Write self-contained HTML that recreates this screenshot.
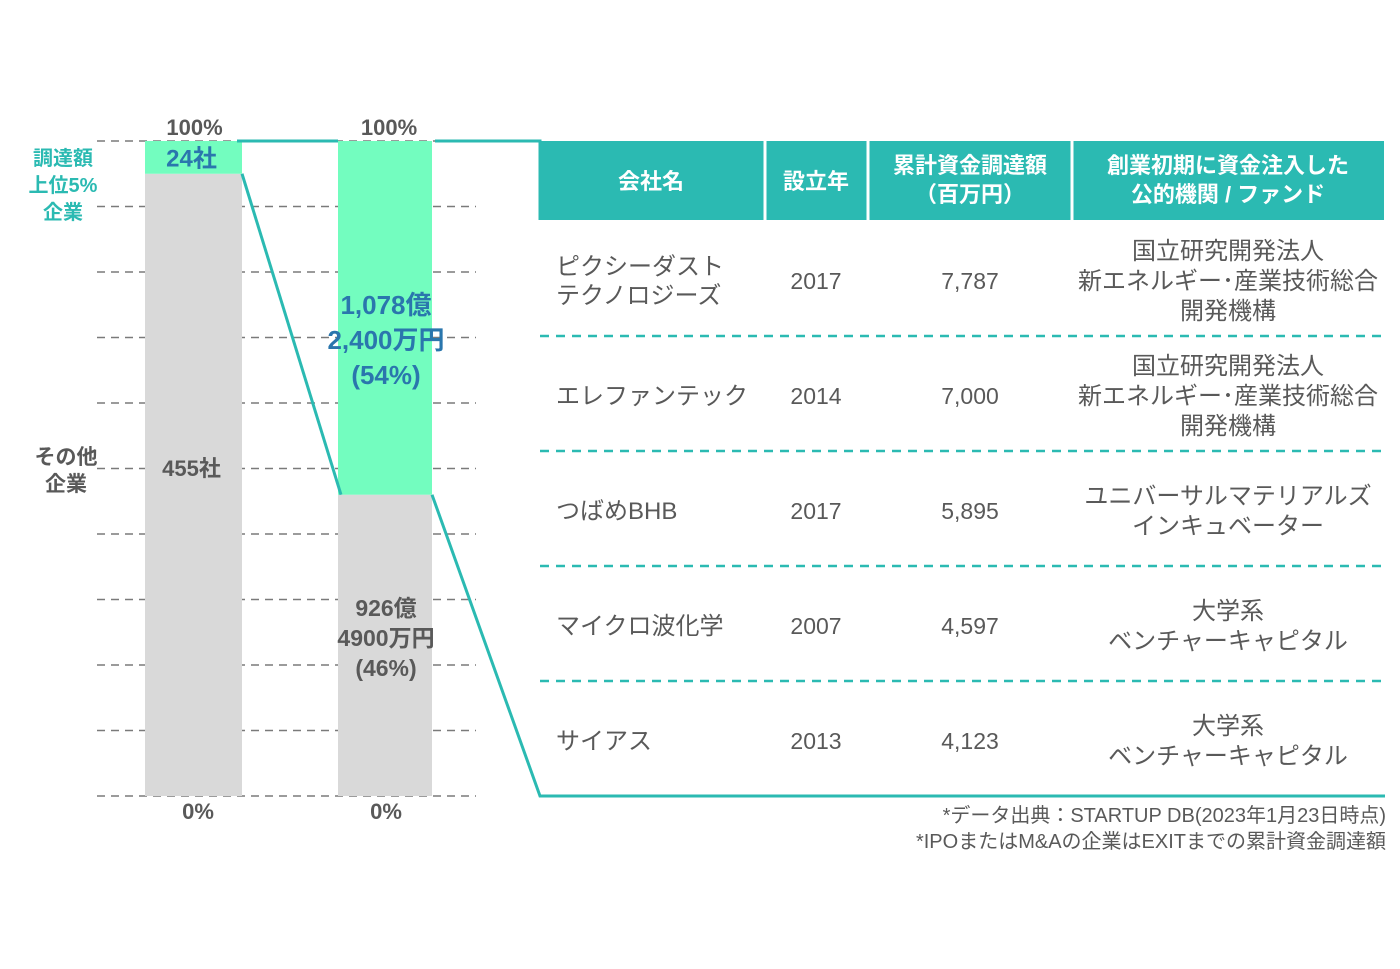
<!DOCTYPE html>
<html><head><meta charset="utf-8">
<style>
body{margin:0;background:#fff;}
svg{display:block;font-family:"Liberation Sans","Noto Sans CJK JP",sans-serif;}
</style></head>
<body>
<svg id="chart" width="1400" height="969" viewBox="0 0 1400 969">
<g id="grid"></g><g id="bars"></g><g id="conn"></g><g id="labels"></g>
<g id="table"></g>
</svg>
<script>
const categories = ["社数", "調達額"];
const topShare = [5, 54];
const otherShare = [95, 46];
const topLabels = [["24社"], ["1,078億", "2,400万円", "(54%)"]];
const otherLabels = [["455社"], ["926億", "4900万円", "(46%)"]];
const gridTicks = [0,10,20,30,40,50,60,70,80,90,100];
const companies = ["ピクシーダスト|テクノロジーズ","エレファンテック","つばめBHB","マイクロ波化学","サイアス"];
const founded = ["2017","2014","2017","2007","2013"];
const funding = ["7,787","7,000","5,895","4,597","4,123"];
const investors = ["国立研究開発法人|新エネルギー･産業技術総合|開発機構","国立研究開発法人|新エネルギー･産業技術総合|開発機構","ユニバーサルマテリアルズ|インキュベーター","大学系|ベンチャーキャピタル","大学系|ベンチャーキャピタル"];

const NS="http://www.w3.org/2000/svg";
function mk(tag,attrs,parent,text){const e=document.createElementNS(NS,tag);for(const k in attrs)e.setAttribute(k,attrs[k]);if(text!==undefined)e.textContent=text;parent.appendChild(e);return e;}
const y0=796,y1=141;
const y=v=>y0-(y0-y1)*v/100;
const barX=[145,338], barW=[97,94];
const TEAL="#2bbab2", GREEN="#73fdbf", GRAY="#d9d9d9", TXT="#595959", BLUE="#2a76ad";
const grid=document.getElementById('grid'),bars=document.getElementById('bars'),conn=document.getElementById('conn'),lab=document.getElementById('labels'),tbl=document.getElementById('table');
gridTicks.forEach(t=>{
  const l=mk('line',{x1:97,x2:476,y1:y(t),y2:y(t),stroke:'#7a7a7a','stroke-width':1.5,'stroke-dasharray':'8 6'},grid);
  
  
});
const botX=[198,386];
categories.forEach((c,i)=>{
  const o=mk('rect',{x:barX[i],y:y(otherShare[i]),width:barW[i],height:y0-y(otherShare[i]),fill:GRAY},bars);
  
  
  const t=mk('rect',{x:barX[i],y:y(100),width:barW[i],height:y(100-topShare[i])-y(100),fill:GREEN},bars);
  
  
  const cx=barX[i]+barW[i]/2+(i==0?-3:0);
  const a=mk('text',{x:cx+4,y:135,'text-anchor':'middle','font-size':22,'font-weight':'bold',fill:TXT},lab,'100%');
  
  
  const b=mk('text',{x:botX[i],y:819,'text-anchor':'middle','font-size':22,'font-weight':'bold',fill:TXT},lab,'0%');
  
  
  const tm=(y(100)+y(100-topShare[i]))/2;
  const tl=topLabels[i], ol=otherLabels[i];
  const tOff = i==0? tm+9 : 314;
  tl.forEach((s,k)=>{const e=mk('text',{x:cx+1,y:tOff+k*35,'text-anchor':'middle','font-size':i==0?24:26,'font-weight':'bold',fill:BLUE},lab,s);
    
    });
  const oOff = i==0? 476 : 616;
  ol.forEach((s,k)=>{const e=mk('text',{x:cx+1,y:oOff+k*30,'text-anchor':'middle','font-size':i==0?22:23,'font-weight':'bold',fill:TXT},lab,s);
    
    });
});
const c1=mk('polyline',{points:`${barX[0]+barW[0]-5},${y(100)} ${barX[1]},${y(100)}`,stroke:TEAL,'stroke-width':3,fill:'none'},conn);

const c2=mk('polyline',{points:`${barX[0]+barW[0]},${y(100-topShare[0])} ${barX[1]+3},${y(100-topShare[1])}`,stroke:TEAL,'stroke-width':3,fill:'none'},conn);

const c3=mk('polyline',{points:`${barX[1]+barW[1]+3},${y(100)} 540,${y(100)} 540,220`,stroke:TEAL,'stroke-width':3,fill:'none'},conn);

const c4=mk('polyline',{points:`${barX[1]+barW[1]},${y(100-topShare[1])} 540,796 1385,796`,stroke:TEAL,'stroke-width':3,fill:'none'},conn);

[["調達額",165],["上位5%",192],["企業",219]].forEach(([s,yy])=>{const e=mk('text',{x:63,y:yy,'text-anchor':'middle','font-size':20,'font-weight':'bold',fill:TEAL},lab,s);
  });
[["その他",464],["企業",491]].forEach(([s,yy])=>{const e=mk('text',{x:66,y:yy,'text-anchor':'middle','font-size':21,'font-weight':'bold',fill:TXT},lab,s);
  });
const centers=[651,816,970,1228];
const h=mk('rect',{x:540,y:141,width:844,height:79,fill:TEAL},tbl);

[765,868,1072].forEach(x=>{const l=mk('line',{x1:x,x2:x,y1:141,y2:220,stroke:'#fff','stroke-width':3},tbl);
  });
const heads=[["会社名"],["設立年"],["累計資金調達額","（百万円）"],["創業初期に資金注入した","公的機関 / ファンド"]];
heads.forEach((hh,i)=>{const base=hh.length==1?189:173;hh.forEach((s,k)=>{const e=mk('text',{x:centers[i],y:base+k*29,'text-anchor':'middle','font-size':22,'font-weight':'bold',fill:'#fff'},tbl,s);
  });});
companies.forEach((c,r)=>{
  const cy=281+r*115;
  const nm=c.split('|');
  nm.forEach((s,k)=>{const e=mk('text',{x:556,y:cy+8+(k-(nm.length-1)/2)*29,'font-size':24,fill:TXT},tbl,s);
    });
  const f=mk('text',{x:centers[1],y:cy+8,'text-anchor':'middle','font-size':23,fill:TXT},tbl,founded[r]);
  
  const g=mk('text',{x:centers[2],y:cy+8,'text-anchor':'middle','font-size':23,fill:TXT},tbl,funding[r]);
  
  const iv=investors[r].split('|');
  iv.forEach((s,k)=>{const e=mk('text',{x:centers[3],y:cy+8+(k-(iv.length-1)/2)*30,'text-anchor':'middle','font-size':24,fill:TXT},tbl,s);
    });
  if(r<companies.length-1){const l=mk('line',{x1:540,x2:1384,y1:cy+55,y2:cy+55,stroke:TEAL,'stroke-width':2.5,'stroke-dasharray':'9 7'},tbl);
    }
});
const n1=mk('text',{x:1386,y:822,'text-anchor':'end','font-size':20,fill:TXT},tbl,'*データ出典：STARTUP DB(2023年1月23日時点)');

const n2=mk('text',{x:1386,y:848,'text-anchor':'end','font-size':20,fill:TXT},tbl,'*IPOまたはM&Aの企業はEXITまでの累計資金調達額');

</script>
</body></html>
